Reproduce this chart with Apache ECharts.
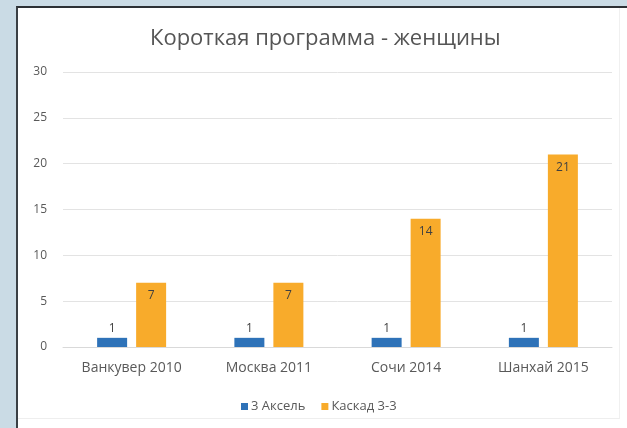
<!DOCTYPE html>
<html><head><meta charset="utf-8">
<script src="https://cdn.jsdelivr.net/npm/echarts@6/dist/echarts.min.js"></script>
<style>
html,body{margin:0;padding:0;background:#cadbe5;}
#wrap{position:absolute;left:0;top:0;width:627px;height:428px;overflow:hidden;background:#cadbe5;}
#panel{position:absolute;left:16px;top:6px;width:611px;height:422px;background:#fff;border-left:2px solid #3a3f44;border-top:2px solid #2c3034;box-sizing:border-box;}
#inner{position:absolute;left:18px;top:8px;width:602px;height:411px;border-right:1px solid #f0f0f0;border-bottom:1px solid #eeeeee;box-sizing:border-box;}
#chart{position:absolute;left:0;top:0;width:627px;height:428px;}
</style></head>
<body>
<div id="wrap"><div id="panel"></div><div id="inner"></div><div id="chart"></div></div>
<script>
const categories = ['Ванкувер 2010', 'Москва 2011', 'Сочи 2014', 'Шанхай 2015'];
const seriesNames = ['3 Аксель', 'Каскад 3-3'];
const axel = [1, 1, 1, 1];
const cascade = [7, 7, 14, 21];
const yTicks = [0, 5, 10, 15, 20, 25, 30];

const chart = echarts.init(document.getElementById('chart'), null, {renderer: 'canvas'});
const font = '"Open Sans", "Noto Sans", sans-serif';
chart.setOption({
  backgroundColor: 'transparent',
  animation: false,
  textStyle: {fontFamily: font},
  title: {
    text: 'Короткая программа - женщины',
    left: 145, top: 23,
    textStyle: {fontSize: 22, fontWeight: 'normal', color: '#555555', fontFamily: font}
  },
  legend: {
    data: seriesNames,
    left: 236, top: 395,
    itemWidth: 7, itemHeight: 7, itemGap: 16,
    icon: 'rect',
    textStyle: {fontSize: 13, color: '#595959', fontFamily: font, padding: [0, 0, 0, -2]}
  },
  grid: {left: 63, right: 15, top: 72, bottom: 81, containLabel: false},
  xAxis: {
    type: 'category',
    data: categories,
    axisLine: {lineStyle: {color: '#d9d9d9', width: 1}},
    axisTick: {show: false},
    axisLabel: {color: '#595959', fontSize: 14, margin: 14, fontFamily: font}
  },
  yAxis: {
    type: 'value',
    min: yTicks[0], max: yTicks[yTicks.length - 1], interval: 5,
    axisLine: {show: false},
    axisTick: {show: false},
    splitLine: {lineStyle: {color: '#e3e3e3', width: 1}},
    axisLabel: {color: '#595959', fontSize: 12, margin: 16, fontFamily: font}
  },
  series: [
    {
      name: seriesNames[0], type: 'bar', data: axel,
      barWidth: 30, barGap: '30%',
      itemStyle: {color: '#2e72b8'},
      label: {show: true, position: 'top', distance: 3, color: '#404040', fontSize: 12, fontFamily: font}
    },
    {
      name: seriesNames[1], type: 'bar', data: cascade,
      barWidth: 30,
      itemStyle: {color: '#f8ab2b'},
      label: {show: true, position: 'insideTop', distance: 7, color: '#404040', fontSize: 12, fontFamily: font}
    }
  ]
});
</script>
</body></html>
